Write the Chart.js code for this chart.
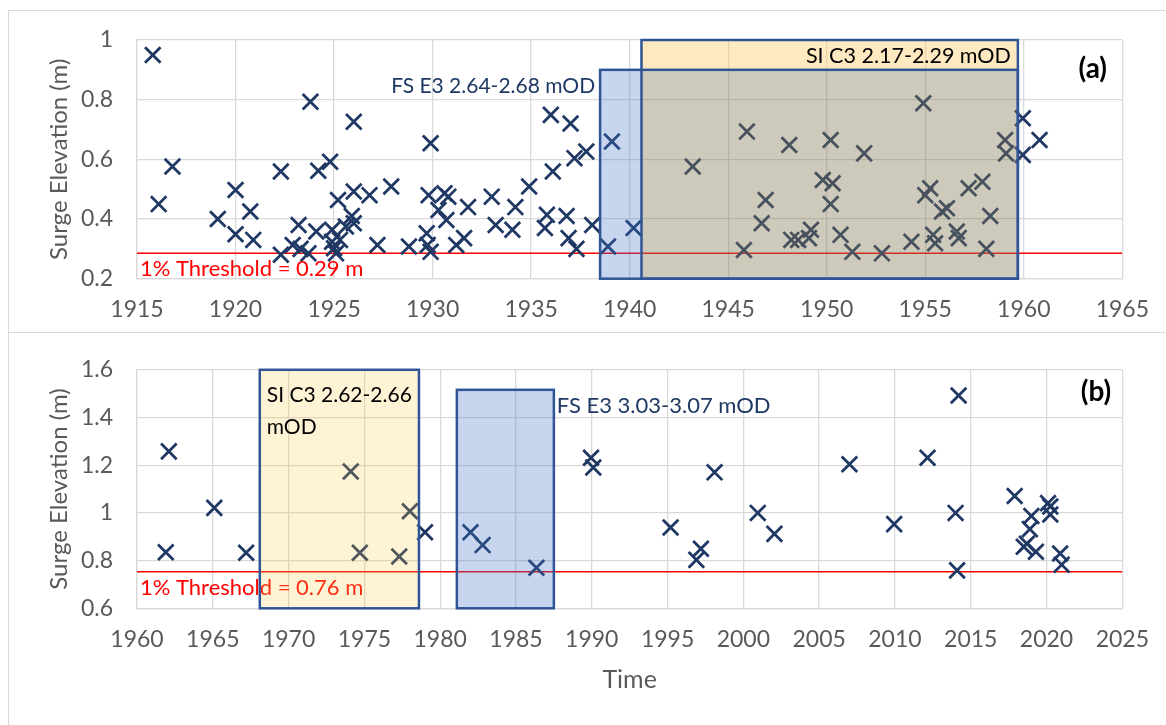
<!DOCTYPE html>
<html>
<head>
<meta charset="utf-8">
<script src="https://cdn.jsdelivr.net/npm/chart.js@4.4.0/dist/chart.umd.min.js"></script>
<style>
  body { margin: 0; background: #fff; width: 1166px; height: 725px; position: relative; overflow: hidden; }
  .frame { position: absolute; border: 1px solid #d9d9d9; }
  canvas { position: absolute; left: 0; }
</style>
</head>
<body>
<div class="frame" style="left:8px; top:10px; width:1180px; height:321px;"></div>
<div class="frame" style="left:8px; top:332px; width:1180px; height:410px;"></div>
<canvas id="chartA" width="1166" height="332" style="top:0"></canvas>
<canvas id="chartB" width="1166" height="393" style="top:332px"></canvas>
<script>
// ---- panel (a) 1915-1965 ----
const yearsA = [1915.8, 1916.1, 1916.8, 1919.1, 1920.0, 1920.0, 1920.75, 1920.9, 1922.3, 1922.3,
  1922.9, 1923.2, 1923.3, 1923.8, 1923.7, 1924.1, 1924.2, 1924.8, 1924.9, 1925.0,
  1925.1, 1924.9, 1925.2, 1925.3, 1925.6, 1925.9, 1926.0, 1926.0, 1926.0, 1926.8,
  1927.2, 1927.9, 1928.8, 1929.9, 1929.8, 1929.7, 1929.75, 1929.9, 1930.3, 1930.6,
  1930.8, 1930.7, 1931.2, 1931.6, 1931.8, 1933.0, 1933.2, 1934.05, 1934.2, 1934.9,
  1936.1, 1936.0, 1935.8, 1935.7, 1936.8, 1937.0, 1937.2, 1937.8, 1936.9, 1937.3,
  1938.1, 1938.9, 1939.1, 1940.2, 1943.2, 1945.95, 1946.9, 1946.7, 1945.8, 1948.1,
  1948.2, 1948.55, 1949.1, 1949.2, 1949.8, 1950.2, 1950.3, 1950.2, 1950.7, 1951.3,
  1951.9, 1952.8, 1954.3, 1954.9, 1955.0, 1955.25, 1955.4, 1955.5, 1955.85, 1956.1,
  1956.6, 1956.7, 1957.2, 1957.9, 1958.3, 1958.1, 1959.05, 1959.1, 1959.95, 1959.95,
  1960.8];
const surgeA = [0.95, 0.45, 0.576, 0.40, 0.497, 0.349, 0.425, 0.33, 0.559, 0.28,
  0.313, 0.38, 0.30, 0.793, 0.285, 0.358, 0.562, 0.592, 0.324, 0.302,
  0.285, 0.364, 0.464, 0.33, 0.375, 0.41, 0.492, 0.386, 0.726, 0.48,
  0.313, 0.509, 0.308, 0.654, 0.48, 0.352, 0.313, 0.29, 0.43, 0.486,
  0.475, 0.397, 0.313, 0.336, 0.44, 0.475, 0.38, 0.364, 0.44, 0.509,
  0.559, 0.749, 0.414, 0.37, 0.41, 0.72, 0.604, 0.626, 0.336, 0.30,
  0.38, 0.308, 0.66, 0.37, 0.576, 0.693, 0.464, 0.386, 0.296, 0.648,
  0.33, 0.33, 0.336, 0.364, 0.531, 0.665, 0.52, 0.45, 0.347, 0.29,
  0.62, 0.285, 0.324, 0.788, 0.48, 0.503, 0.347, 0.319, 0.425, 0.436,
  0.358, 0.336, 0.503, 0.525, 0.41, 0.30, 0.665, 0.62, 0.738, 0.615,
  0.665];
const xTicksA = [1915, 1920, 1925, 1930, 1935, 1940, 1945, 1950, 1955, 1960, 1965];
const yTicksA = [0.2, 0.4, 0.6, 0.8, 1];
const thresholdA = 0.285;
const fsBoxA = [1938.5, 1959.7, 0.2, 0.9];   // year from, year to, surge from, surge to
const siBoxA = [1940.6, 1959.7, 0.2, 1.0];

// ---- panel (b) 1960-2025 ----
const yearsB = [1962.1, 1961.9, 1965.1, 1967.2, 1974.1, 1974.7, 1977.3, 1978.0, 1979.0, 1982.0,
  1982.8, 1986.35, 1989.95, 1990.1, 1995.2, 1996.9, 1997.2, 1998.1, 2000.95, 2002.05,
  2007.0, 2009.95, 2012.15, 2014.2, 2014.0, 2014.1, 2017.9, 2019.0, 2018.9, 2018.7,
  2018.5, 2019.3, 2020.1, 2020.25, 2020.25, 2020.9, 2021.0];
const surgeB = [1.258, 0.835, 1.021, 0.833, 1.174, 0.833, 0.817, 1.007, 0.919, 0.919,
  0.865, 0.77, 1.231, 1.19, 0.939, 0.803, 0.85, 1.17, 1.0, 0.912,
  1.204, 0.953, 1.231, 1.492, 1.0, 0.759, 1.071, 0.987, 0.932, 0.871,
  0.858, 0.837, 1.041, 1.027, 0.993, 0.83, 0.783];
const xTicksB = [1960, 1965, 1970, 1975, 1980, 1985, 1990, 1995, 2000, 2005, 2010, 2015, 2020, 2025];
const yTicksB = [0.6, 0.8, 1, 1.2, 1.4, 1.6];
const thresholdB = 0.753;
const siBoxB = [1968.1, 1978.6, 0.6, 1.6];
const fsBoxB = [1981.1, 1987.5, 0.6, 1.516];

const navy = '#1F3864';
const boxEdge = '#2F5597';
const font = 'Lato, "Noto Sans", sans-serif';

// filled rectangles over the markers, plus their labels
const overlays = {
  id: 'overlays',
  afterDatasetsDraw(chart, args, o) {
    const {ctx, chartArea: ca, scales: {x, y}} = chart;
    const rect = b => [x.getPixelForValue(b[0]), y.getPixelForValue(b[3]),
      x.getPixelForValue(b[1]) - x.getPixelForValue(b[0]), y.getPixelForValue(b[2]) - y.getPixelForValue(b[3])];
    ctx.save();
    // threshold label (sits under the boxes)
    ctx.font = '22px ' + font;
    ctx.fillStyle = '#FF0000';
    ctx.textAlign = 'left';
    ctx.textBaseline = 'middle';
    ctx.fillText(o.threshText, ca.left + 3, y.getPixelForValue(o.threshold) + 16);

    const fr = rect(o.fs), sr = rect(o.si);
    // fs box minus si box
    ctx.save();
    ctx.beginPath(); ctx.rect(0, 0, chart.width, chart.height); ctx.rect(...sr); ctx.clip('evenodd');
    ctx.fillStyle = 'rgba(70,120,200,0.3)'; ctx.fillRect(...fr);
    ctx.restore();
    // si box minus fs box
    ctx.save();
    ctx.beginPath(); ctx.rect(0, 0, chart.width, chart.height); ctx.rect(...fr); ctx.clip('evenodd');
    ctx.fillStyle = o.siFill; ctx.fillRect(...sr);
    ctx.restore();
    // overlap
    ctx.save();
    ctx.beginPath(); ctx.rect(...fr); ctx.clip();
    ctx.fillStyle = 'rgba(132,122,84,0.4)'; ctx.fillRect(...sr);
    ctx.restore();

    ctx.strokeStyle = boxEdge;
    ctx.lineWidth = 2.5;
    ctx.strokeRect(...fr);
    ctx.strokeRect(...sr);

    // labels
    o.labels.forEach(l => {
      ctx.font = (l.bold ? 'bold ' : '') + l.size + 'px ' + font;
      ctx.fillStyle = l.color;
      ctx.textAlign = l.align;
      ctx.textBaseline = 'middle';
      ctx.fillText(l.text, x.getPixelForValue(l.x) + (l.dx || 0), y.getPixelForValue(l.y));
    });
    ctx.restore();
  }
};

function buildChart(id, c) {
  return new Chart(document.getElementById(id), {
    type: 'scatter',
    data: {
      datasets: [{
        data: c.years.map((yr, i) => ({x: yr, y: c.surge[i]})),
        pointStyle: 'crossRot',
        pointRadius: 11,
        pointHoverRadius: 11,
        borderWidth: 2.8,
        borderColor: navy,
        backgroundColor: navy
      }, {
        type: 'line',
        data: [{x: c.xTicks[0], y: c.threshold}, {x: c.xTicks[c.xTicks.length - 1], y: c.threshold}],
        borderColor: '#FF0000',
        borderWidth: 1.5,
        pointRadius: 0
      }]
    },
    options: {
      responsive: false,
      animation: false,
      layout: {padding: {top: c.top, right: 42, bottom: 0, left: 0}},
      plugins: {
        legend: {display: false},
        tooltip: {enabled: false},
        overlays: c.overlays
      },
      scales: {
        x: {
          type: 'linear',
          min: c.xTicks[0],
          max: c.xTicks[c.xTicks.length - 1],
          afterBuildTicks: s => { s.ticks = c.xTicks.map(v => ({value: v})); },
          afterFit: s => { s.height = c.xAxisH; },
          ticks: {callback: v => String(v), color: '#595959', font: {family: font, size: 23}, padding: 17, maxRotation: 0},
          grid: {color: '#D9D9D9', lineWidth: 1.3, drawTicks: false},
          border: {color: '#D9D9D9', width: 1.3},
          title: c.xTitle ? {display: true, text: c.xTitle, color: '#595959', font: {family: font, size: 25}, padding: {top: 0, bottom: 30}} : {display: false}
        },
        y: {
          min: c.yTicks[0],
          max: c.yTicks[c.yTicks.length - 1],
          afterBuildTicks: s => { s.ticks = c.yTicks.map(v => ({value: v})); },
          afterFit: s => { s.width = 137; },
          ticks: {callback: v => String(v), color: '#595959', font: {family: font, size: 23}, padding: 24},
          grid: {color: '#D9D9D9', lineWidth: 1.3, drawTicks: false},
          border: {color: '#D9D9D9', width: 1.3},
          title: {display: true, text: 'Surge Elevation (m)', color: '#595959', font: {family: font, size: 24}, padding: {top: 45, bottom: 0}}
        }
      }
    },
    plugins: [overlays]
  });
}

buildChart('chartA', {
  years: yearsA, surge: surgeA, xTicks: xTicksA, yTicks: yTicksA, threshold: thresholdA,
  top: 40, xAxisH: 53.3,
  overlays: {
    threshold: thresholdA, threshText: '1% Threshold = 0.29 m',
    fs: fsBoxA, si: siBoxA, siFill: 'rgba(255,200,100,0.4)',
    labels: [
      {text: 'FS E3 2.64-2.68 mOD', x: fsBoxA[0], dx: -5, y: 0.844, align: 'right', color: navy, size: 21},
      {text: 'SI C3 2.17-2.29 mOD', x: siBoxA[1], dx: -7, y: 0.946, align: 'right', color: '#000', size: 21.5},
      {text: '(a)', x: 1963.5, y: 0.903, align: 'center', color: '#000', bold: true, size: 28}
    ]
  }
});

buildChart('chartB', {
  years: yearsB, surge: surgeB, xTicks: xTicksB, yTicks: yTicksB, threshold: thresholdB,
  top: 30.7, xAxisH: 116.7, xTitle: 'Time',
  overlays: {
    threshold: thresholdB, threshText: '1% Threshold = 0.76 m',
    fs: fsBoxB, si: siBoxB, siFill: 'rgba(255,200,68,0.22)',
    labels: [
      {text: 'FS E3 3.03-3.07 mOD', x: fsBoxB[1], dx: 3, y: 1.448, align: 'left', color: navy, size: 22},
      {text: 'SI C3 2.62-2.66', x: siBoxB[0], dx: 7, y: 1.492, align: 'left', color: '#000', size: 21},
      {text: 'mOD', x: siBoxB[0], dx: 7, y: 1.36, align: 'left', color: '#000', size: 21},
      {text: '(b)', x: 2023.26, y: 1.505, align: 'center', color: '#000', bold: true, size: 28}
    ]
  }
});
</script>
</body>
</html>
